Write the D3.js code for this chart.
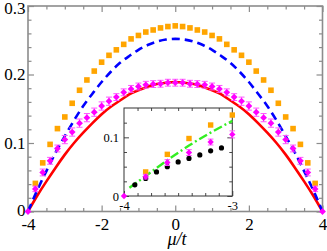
<!DOCTYPE html>
<html><head><meta charset="utf-8">
<script src="https://cdn.jsdelivr.net/npm/d3@7/dist/d3.min.js"></script>
<style>body{margin:0;background:#fff}svg{display:block}</style>
</head><body>
<svg id="chart" width="327" height="251"></svg>
<script>
// ---------- data ----------
const muMag = [-4,-3.8,-3.6,-3.4,-3.2,-3,-2.8,-2.6,-2.4,-2.2,-2,-1.8,-1.6,-1.4,-1.2,-1,-0.8,-0.6,-0.4,-0.2,0,
               0.2,0.4,0.6,0.8,1,1.2,1.4,1.6,1.8,2,2.2,2.4,2.6,2.8,3,3.2,3.4,3.6,3.8,4];
const magentaVals = [0,0.033,0.057,0.074,0.092,0.105,0.116,0.129,0.137,0.145,0.154,0.161,0.167,0.174,0.179,0.1825,0.185,0.186,0.1865,0.188,0.188,
                     0.188,0.1865,0.186,0.185,0.1825,0.179,0.174,0.167,0.161,0.154,0.145,0.137,0.129,0.116,0.105,0.092,0.074,0.057,0.033,0];
const magentaErr = [0,0.004,0.005,0.005,0.005,0.006,0.006,0.006,0.006,0.006,0.006,0.006,0.005,0.005,0.005,0.005,0.005,0.005,0.005,0.005,0.005,
                    0.005,0.005,0.005,0.005,0.005,0.005,0.005,0.005,0.006,0.006,0.006,0.006,0.006,0.006,0.006,0.005,0.005,0.005,0.004,0];

const muOrange = [-3.8,-3.6,-3.4,-3.2,-3,-2.8,-2.6,-2.4,-2.2,-2,-1.8,-1.6,-1.4,-1.2,-1,-0.8,-0.6,-0.4,-0.2,0,
                  0.2,0.4,0.6,0.8,1,1.2,1.4,1.6,1.8,2,2.2,2.4,2.6,2.8,3,3.2,3.4,3.6,3.8];
const orangeVals = [0.041,0.071,0.098,0.121,0.138,0.158,0.177,0.192,0.205,0.218,0.228,0.236,0.244,0.252,0.257,0.262,0.265,0.268,0.270,0.271,
                    0.270,0.268,0.265,0.262,0.257,0.252,0.244,0.236,0.228,0.218,0.205,0.192,0.177,0.158,0.138,0.121,0.098,0.071,0.041];

const muLine = [-4,-3.75,-3.5,-3.25,-3,-2.75,-2.5,-2.25,-2,-1.75,-1.5,-1.25,-1,-0.75,-0.5,-0.25,0,
                0.25,0.5,0.75,1,1.25,1.5,1.75,2,2.25,2.5,2.75,3,3.25,3.5,3.75,4];
const blueVals = [0,0.031,0.059,0.086,0.110,0.133,0.154,0.172,0.189,0.204,0.217,0.227,0.236,0.243,0.248,0.251,0.252,
                  0.251,0.248,0.243,0.236,0.227,0.217,0.204,0.189,0.172,0.154,0.133,0.110,0.086,0.059,0.031,0];
const redVals = [0,0.023,0.044,0.064,0.083,0.100,0.115,0.129,0.142,0.153,0.162,0.171,0.177,0.182,0.186,0.188,0.189,
                 0.188,0.186,0.182,0.177,0.171,0.162,0.153,0.142,0.129,0.115,0.100,0.083,0.064,0.044,0.023,0];

// inset
const muBlack = [-3.9,-3.8,-3.7,-3.6,-3.5,-3.4,-3.3,-3.2,-3.1];
const blackVals = [0.019,0.030,0.041,0.050,0.058,0.064,0.070,0.077,0.082];
const muGreen = [-3.95,-3.8,-3.6,-3.4,-3.2,-3.0];
const greenVals = [0.014,0.034,0.061,0.086,0.108,0.128];

// ticks
const xMajor = [-4,-2,0,2,4];
const xMajorLabels = ["-4","-2","0","2","4"];
const xMinor = [-3.5,-3,-2.5,-1.5,-1,-0.5,0.5,1,1.5,2.5,3,3.5];
const yMajor = [0,0.1,0.2,0.3];
const yMajorLabels = ["0","0.1","0.2","0.3"];
const yMinor = [0.02,0.04,0.06,0.08,0.12,0.14,0.16,0.18,0.22,0.24,0.26,0.28];
const ixMajor = [-4,-3];
const ixMajorLabels = ["-4","-3"];
const ixMinor = [-3.875,-3.75,-3.625,-3.5,-3.375,-3.25,-3.125];
const iyMajor = [0,0.1];
const iyMajorLabels = ["0","0.1"];
const iyMinor = [0.025,0.05,0.075,0.125];

// ---------- drawing ----------
const svg = d3.select("#chart");
const FONT = "'Liberation Serif','Times New Roman',serif";
const frameCol = "#8c8c8c";

const x = d3.scaleLinear([-4,4],[28,322.5]);
const y = d3.scaleLinear([0,0.3],[211.5,6]);

function styleAxis(g, col, w, fs) {
  g.select(".domain").remove();
  g.selectAll("line").attr("stroke", col).attr("stroke-width", w);
  g.selectAll("text").attr("font-family", FONT).attr("font-size", fs).attr("fill", "#000");
  g.attr("font-family", null).attr("font-size", null);
}
function addAxis(parent, axis, transform, col, w, fs) {
  const g = parent.append("g").attr("transform", transform).call(axis);
  styleAxis(g, col, w, fs);
  return g;
}
const none = () => "";

// main frame
svg.append("rect").attr("x", x(-4)).attr("y", y(0.3))
  .attr("width", x(4) - x(-4)).attr("height", y(0) - y(0.3))
  .attr("fill", "none").attr("stroke", frameCol).attr("stroke-width", 1.6);

// main axes
const bY = y(0), tY = y(0.3), lX = x(-4), rX = x(4);
addAxis(svg, d3.axisBottom(x).tickValues(xMajor).tickSize(-6).tickPadding(6.5).tickFormat((d,i)=>xMajorLabels[i]), `translate(0,${bY})`, frameCol, 1.2, 17);
addAxis(svg, d3.axisBottom(x).tickValues(xMinor).tickSize(-3.5).tickFormat(none), `translate(0,${bY})`, frameCol, 1.2, 17);
addAxis(svg, d3.axisTop(x).tickValues(xMajor).tickSize(-6).tickFormat(none), `translate(0,${tY})`, frameCol, 1.2, 17);
addAxis(svg, d3.axisTop(x).tickValues(xMinor).tickSize(-3.5).tickFormat(none), `translate(0,${tY})`, frameCol, 1.2, 17);
const yl = addAxis(svg, d3.axisLeft(y).tickValues(yMajor).tickSize(-6).tickPadding(2.5).tickFormat((d,i)=>yMajorLabels[i]), `translate(${lX},0)`, frameCol, 1.2, 17);
yl.selectAll("text").filter(d => d === 0.3).attr("dy", "0.42em");
yl.selectAll("text").filter(d => d === 0).attr("dy", "0.22em");
addAxis(svg, d3.axisLeft(y).tickValues(yMinor).tickSize(-3.5).tickFormat(none), `translate(${lX},0)`, frameCol, 1.2, 17);
addAxis(svg, d3.axisRight(y).tickValues(yMajor).tickSize(-6).tickFormat(none), `translate(${rX},0)`, frameCol, 1.2, 17);
addAxis(svg, d3.axisRight(y).tickValues(yMinor).tickSize(-3.5).tickFormat(none), `translate(${rX},0)`, frameCol, 1.2, 17);

// x label
svg.append("text").attr("x", 177).attr("y", 245).attr("text-anchor", "middle")
  .attr("font-family", FONT).attr("font-size", 18).attr("font-style", "italic").text("μ/t");

// lines
const lineGen = d3.line().x(d => x(d[0])).y(d => y(d[1])).curve(d3.curveNatural);
svg.append("path").datum(muLine.map((m,i)=>[m, redVals[i]])).attr("d", lineGen)
  .attr("fill","none").attr("stroke","#ff0000").attr("stroke-width",2.6);
svg.append("path").datum(muLine.map((m,i)=>[m, blueVals[i]])).attr("d", lineGen)
  .attr("fill","none").attr("stroke","#0000ff").attr("stroke-width",2.6).attr("stroke-dasharray","8,5");

// orange squares
const sq = 5.6;
function drawSquares(g, xs, ys, mus, vals, s) {
  g.selectAll(null).data(mus).enter().append("rect")
    .attr("x", (d)=>xs(d)-s/2).attr("y", (d,i)=>ys(vals[i])-s/2)
    .attr("width", s).attr("height", s).attr("fill", "#ffa500");
}
drawSquares(svg, x, y, muOrange, orangeVals, sq);

// magenta with error bars
function drawMagenta(g, xs, ys, mus, vals, errs, r, cap) {
  const eg = g.append("g").attr("stroke", "#ff55ff").attr("stroke-width", 1);
  mus.forEach((m,i) => {
    const e = errs[i];
    if (e > 0) {
      const cx = xs(m), y1 = ys(vals[i]-e), y2 = ys(vals[i]+e);
      eg.append("line").attr("x1",cx).attr("x2",cx).attr("y1",y1).attr("y2",y2);
      eg.append("line").attr("x1",cx-cap).attr("x2",cx+cap).attr("y1",y1).attr("y2",y1);
      eg.append("line").attr("x1",cx-cap).attr("x2",cx+cap).attr("y1",y2).attr("y2",y2);
    }
  });
  g.selectAll(null).data(mus).enter().append("path")
    .attr("d", (d,i) => { const cx = xs(d), cy = ys(vals[i]);
      return `M${cx},${cy-r}L${cx+r},${cy}L${cx},${cy+r}L${cx-r},${cy}Z`; })
    .attr("fill", "#ff00ff");
}
drawMagenta(svg, x, y, muMag, magentaVals, magentaErr, 3.4, 3);

// ---------- inset ----------
const xi = d3.scaleLinear([-4,-3],[124,232.3]);
const yi = d3.scaleLinear([0,0.15],[196,108]);
const ig = svg.append("g");
ig.append("rect").attr("x", xi(-4)).attr("y", yi(0.15)).attr("width", xi(-3)-xi(-4)).attr("height", yi(0)-yi(0.15))
  .attr("fill", "#fff").attr("stroke", "#333").attr("stroke-width", 1);
const icol = "#333";
addAxis(ig, d3.axisBottom(xi).tickValues(ixMajor).tickSize(-5).tickPadding(5).tickFormat((d,i)=>ixMajorLabels[i]), `translate(0,${yi(0)})`, icol, 0.9, 12.5);
addAxis(ig, d3.axisBottom(xi).tickValues(ixMinor).tickSize(-3).tickFormat(none), `translate(0,${yi(0)})`, icol, 0.9, 12.5);
addAxis(ig, d3.axisTop(xi).tickValues(ixMinor).tickSize(-3).tickFormat(none), `translate(0,${yi(0.15)})`, icol, 0.9, 12.5);
addAxis(ig, d3.axisLeft(yi).tickValues(iyMajor).tickSize(-5).tickPadding(5).tickFormat((d,i)=>iyMajorLabels[i]), `translate(${xi(-4)},0)`, icol, 0.9, 12.5);
addAxis(ig, d3.axisLeft(yi).tickValues(iyMinor).tickSize(-3).tickFormat(none), `translate(${xi(-4)},0)`, icol, 0.9, 12.5);
addAxis(ig, d3.axisRight(yi).tickValues(iyMajor).tickSize(-5).tickFormat(none), `translate(${xi(-3)},0)`, icol, 0.9, 12.5);
addAxis(ig, d3.axisRight(yi).tickValues(iyMinor).tickSize(-3).tickFormat(none), `translate(${xi(-3)},0)`, icol, 0.9, 12.5);

// green dash-dot
const greenLine = d3.line().x(d => xi(d[0])).y(d => yi(d[1])).curve(d3.curveMonotoneX);
ig.append("path").datum(muGreen.map((m,i)=>[m, greenVals[i]])).attr("d", greenLine)
  .attr("fill","none").attr("stroke","#33ee22").attr("stroke-width",2.4).attr("stroke-dasharray","9,3,2,3");

// black dots
ig.selectAll(null).data(muBlack).enter().append("circle")
  .attr("cx", d=>xi(d)).attr("cy", (d,i)=>yi(blackVals[i])).attr("r", 2.6).attr("fill", "#000");

// orange + magenta in inset (subset of the main data with mu <= -3)
const insO = muOrange.map((m,i)=>[m,orangeVals[i]]).filter(d=>d[0] <= -3);
drawSquares(ig, xi, yi, insO.map(d=>d[0]), insO.map(d=>d[1]), 5.4);
const insM = muMag.map((m,i)=>[m,magentaVals[i],magentaErr[i]]).filter(d=>d[0] <= -3);
drawMagenta(ig, xi, yi, insM.map(d=>d[0]), insM.map(d=>d[1]), insM.map(d=>d[2]), 3.2, 2.8);
</script>
</body></html>
